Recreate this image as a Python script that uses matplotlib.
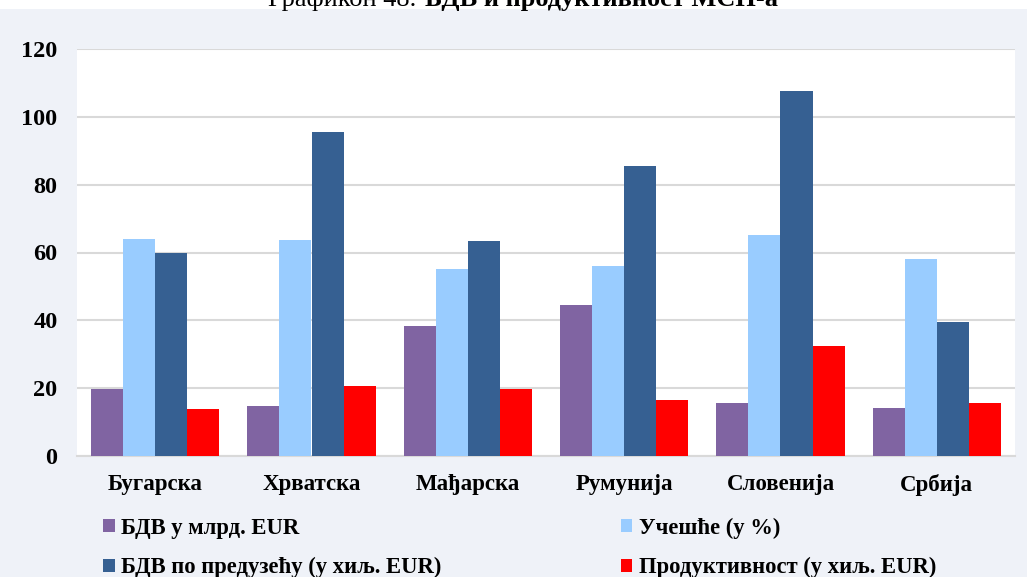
import matplotlib.pyplot as plt
import numpy as np
from matplotlib.patches import Rectangle, Patch

countries = ['Бугарска', 'Хрватска', 'Мађарска', 'Румунија', 'Словенија', 'Србија']
bdv_mlrd = [19.8, 14.7, 38.3, 44.4, 15.7, 14.1]
ucesce = [64.0, 63.7, 55.2, 55.9, 65.2, 58.2]
bdv_po_preduzecu = [59.9, 95.6, 63.4, 85.5, 107.7, 39.4]
produktivnost = [13.9, 20.6, 19.8, 16.5, 32.4, 15.6]

series_labels = [
    'БДВ у млрд. EUR',
    'Учешће (у %)',
    'БДВ по предузећу (у хиљ. EUR)',
    'Продуктивност (у хиљ. EUR)',
]
colors = ['#8064A2', '#99CCFF', '#366092', '#FF0000']
y_ticks = [0, 20, 40, 60, 80, 100, 120]

plt.rcParams['font.family'] = ['Liberation Serif', 'DejaVu Serif']

fig = plt.figure(figsize=(10.27, 5.77), dpi=100, facecolor='white')
W, H = 1027, 577
fig.patches.append(Rectangle((0, 0), 1, 1 - 9 / H, transform=fig.transFigure,
                             facecolor='#EFF2F8', edgecolor='none', zorder=-10))

ax = fig.add_axes([77 / W, 1 - 456 / H, (1015 - 77) / W, (456 - 49) / H])
ax.set_facecolor('white')

x = np.arange(len(countries))
bw = 0.205
data = [bdv_mlrd, ucesce, bdv_po_preduzecu, produktivnost]
for i, (vals, c) in enumerate(zip(data, colors)):
    ax.bar(x + (i - 1.5) * bw, vals, width=bw, color=c, zorder=3)

ax.set_xlim(-0.5, len(countries) - 0.5)
ax.set_ylim(0, 120)
ax.set_yticks(y_ticks)
ax.set_yticklabels([str(t) for t in y_ticks], fontsize=17.5, fontweight='bold')
ax.set_xticks(x)
ax.set_xticklabels(countries, fontsize=16.5, fontweight='bold')
ax.tick_params(axis='both', length=0)
ax.tick_params(axis='y', pad=14)
ax.tick_params(axis='x', pad=13)
ax.grid(axis='y', color='#D9D9D9', linewidth=1.5, zorder=0)
for side in ['top', 'right', 'left']:
    ax.spines[side].set_visible(False)
ax.spines['bottom'].set_color('#D9D9D9')
ax.spines['bottom'].set_linewidth(1.5)

# legend filled column by column, so reorder the handles
order = [0, 2, 1, 3]
handles = [Patch(facecolor=colors[i], edgecolor='none') for i in order]
labels = [series_labels[i] for i in order]
fig.legend(handles, labels, ncol=2, loc='upper left',
           bbox_to_anchor=(83 / W, 1 - 497 / H), frameon=False,
           prop={'size': 16.3, 'weight': 'bold'},
           handlelength=0.5, handleheight=0.5, handletextpad=0.3,
           labelspacing=0.82, columnspacing=7.9)

# title line, partly cut off at the top edge
ty = 1 - 6 / H
fig.text(423 / W, ty, 'Графикон 48. ', ha='right', va='baseline', fontsize=19)
fig.text(425 / W, ty, 'БДВ и продуктивност МСП-а', ha='left', va='baseline',
         fontsize=19, fontweight='bold')

fig.savefig('out.png', dpi=100, facecolor=fig.get_facecolor())
